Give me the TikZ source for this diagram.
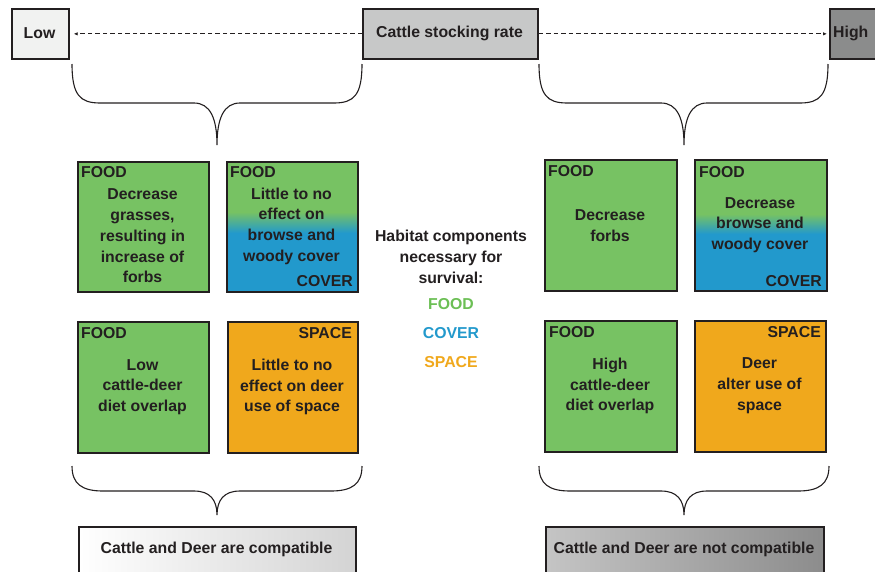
\documentclass[tikz,border=0pt]{standalone}
\usepackage{fontspec}
\setmainfont{Liberation Sans}
\usetikzlibrary{arrows.meta}
\definecolor{ink}{HTML}{231F20}
\definecolor{foodg}{HTML}{77C263}
\definecolor{coverb}{HTML}{2299CC}
\definecolor{spaceo}{HTML}{F0A81C}
\definecolor{legfood}{HTML}{6CBF55}
\definecolor{lowfill}{HTML}{F1F2F1}
\definecolor{midfill}{HTML}{C7C8C8}
\definecolor{highfill}{HTML}{8B8C8C}
\begin{document}
\begin{tikzpicture}[x=1pt,y=-1pt,
  txt/.style={font=\bfseries\fontsize{15.8}{20.7}\selectfont, text=ink, align=center, inner sep=0pt},
  tag/.style={font=\bfseries\fontsize{15.8}{18}\selectfont, text=ink, inner sep=0pt},
  boxs/.style={draw=ink, line width=1.8pt, inner sep=0pt, anchor=north west},
  topbox/.style={draw=ink, line width=1.7pt, inner sep=0pt, anchor=north west, minimum height=50pt},
  bracel/.style={draw=ink, line width=1.1pt},
  dasharrow/.style={draw=ink, line width=1pt, dash pattern=on 4.5pt off 3pt, -{Latex[length=4pt,width=3.5pt]}}
]
\useasboundingbox (0,0) rectangle (875,571);
\clip (0,0) rectangle (875,571);

% top bar
\node[topbox, fill=lowfill, minimum width=57pt] (low) at (11,8) {};
\node[txt] (lowt) at (39.5,33) {Low};
\node[topbox, fill=midfill, minimum width=175pt] (rate) at (362,8) {};
\node[txt] (ratet) at (449.5,33) {Cattle stocking rate};
\node[topbox, fill=highfill, minimum width=80pt] (high) at (829,8) {};
\node[txt, anchor=west] (hight) at (833,33) {High};
\draw[dasharrow, shorten >=4pt] (rate.west) -- (low.east);
\draw[dasharrow, shorten >=2pt] (rate.east) -- (high.west);

% top braces
\draw[bracel] (72,64) .. controls (72,95) and (80,103) .. (100,103) -- (194,103)
  .. controls (210,103) and (217,118) .. (217,145)
  .. controls (217,118) and (224,103) .. (240,103) -- (334,103)
  .. controls (354,103) and (362,95) .. (362,64);
\draw[bracel] (539,64) .. controls (539,95) and (547,103) .. (567,103) -- (661,103)
  .. controls (677,103) and (684,118) .. (684,145)
  .. controls (684,118) and (691,103) .. (707,103) -- (800,103)
  .. controls (820,103) and (828,95) .. (828,64);

% left column boxes
\node[boxs, fill=foodg, minimum width=131pt, minimum height=130pt] (b1) at (77,161) {};
\fill[foodg] (226,161) rectangle (357,212);
\shade[top color=foodg, middle color=foodg!45!coverb!80!white, bottom color=coverb] (226,212) rectangle (357,233);
\fill[coverb] (226,233) rectangle (357,291);
\node[boxs, minimum width=131pt, minimum height=130pt] (b2) at (226,161) {};
\node[boxs, fill=foodg, minimum width=131pt, minimum height=131pt] (b3) at (77,321) {};
\node[boxs, fill=spaceo, minimum width=130pt, minimum height=131pt] (b4) at (227,321) {};

% right column boxes
\node[boxs, fill=foodg, minimum width=132pt, minimum height=131pt] (b5) at (544,159) {};
\fill[foodg] (694,159) rectangle (826,214);
\shade[top color=foodg, middle color=foodg!45!coverb!80!white, bottom color=coverb] (694,214) rectangle (826,234);
\fill[coverb] (694,234) rectangle (826,290);
\node[boxs, minimum width=132pt, minimum height=131pt] (b6) at (694,159) {};
\node[boxs, fill=foodg, minimum width=132pt, minimum height=131pt] (b7) at (544,320) {};
\node[boxs, fill=spaceo, minimum width=131pt, minimum height=131pt] (b8) at (694,320) {};

% tags
\node[tag, anchor=north west] (t1) at (81,166) {FOOD};
\node[tag, anchor=north west] (t2) at (230,166) {FOOD};
\node[tag, anchor=south east] (t2c) at (353,287) {COVER};
\node[tag, anchor=north west] (t3) at (81,327) {FOOD};
\node[tag, anchor=north east] (t4) at (352,327) {SPACE};
\node[tag, anchor=north west] (t5) at (548,165) {FOOD};
\node[tag, anchor=north west] (t6) at (699,166) {FOOD};
\node[tag, anchor=south east] (t6c) at (822,287) {COVER};
\node[tag, anchor=north west] (t7) at (549,326) {FOOD};
\node[tag, anchor=north east] (t8) at (821,326) {SPACE};

% box texts
\node[txt] (x1) at (142.5,236) {Decrease\\grasses,\\resulting in\\increase of\\forbs};
\node[txt] (x2) at (291.5,226) {Little to no\\effect on\\browse and\\woody cover};
\node[txt] (x3) at (142.5,387) {Low\\cattle-deer\\diet overlap};
\node[txt] (x4) at (292,387) {Little to no\\effect on deer\\use of space};
\node[txt] (x5) at (610,225.5) {Decrease\\forbs};
\node[txt] (x6) at (760,225) {Decrease\\browse and\\woody cover};
\node[txt] (x7) at (610,386) {High\\cattle-deer\\diet overlap};
\node[txt] (x8) at (759.5,385.5) {Deer\\alter use of\\space};

% legend
\node[txt] (leg) at (451,257) {Habitat components\\necessary for\\survival:};
\node[txt, text=legfood] (lf) at (451,304) {FOOD};
\node[txt, text=coverb] (lc) at (451,333) {COVER};
\node[txt, text=spaceo] (ls) at (451,362) {SPACE};

% bottom braces
\draw[bracel] (72,466) .. controls (72,484) and (82,491) .. (103,491) -- (194,491)
  .. controls (210,491) and (217,500) .. (217,515)
  .. controls (217,500) and (224,491) .. (240,491) -- (331,491)
  .. controls (352,491) and (362,484) .. (362,466);
\draw[bracel] (539,466) .. controls (539,484) and (549,491) .. (570,491) -- (661,491)
  .. controls (677,491) and (684,500) .. (684,515)
  .. controls (684,500) and (691,491) .. (707,491) -- (798,491)
  .. controls (819,491) and (829,484) .. (829,466);

% bottom boxes
\node[boxs, left color=white, right color=black!17, minimum width=277pt, minimum height=60pt] (c1) at (78,526) {};
\node[txt] (c1t) at (216.5,549) {Cattle and Deer are compatible};
\node[boxs, left color=black!23, right color=black!45, minimum width=278pt, minimum height=60pt] (c2) at (545,526) {};
\node[txt] (c2t) at (684,549) {Cattle and Deer are not compatible};
\end{tikzpicture}
\end{document}
